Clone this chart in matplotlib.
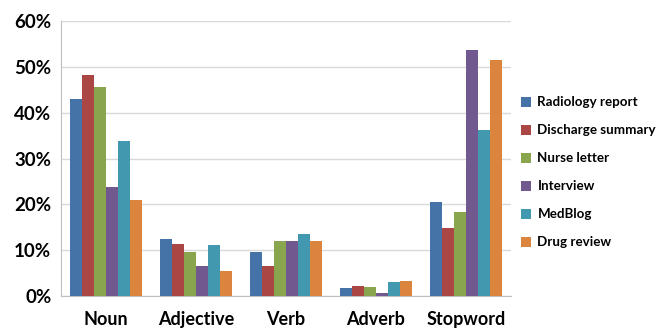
import numpy as np
import matplotlib.pyplot as plt
from matplotlib.ticker import FuncFormatter

plt.rcParams['font.family'] = ['Lato', 'DejaVu Sans']
plt.rcParams['font.weight'] = 'bold'

# part-of-speech share per corpus (%)
categories = ['Noun', 'Adjective', 'Verb', 'Adverb', 'Stopword']
radiology = [43.0, 12.4, 9.6, 1.7, 20.6]
discharge = [48.3, 11.3, 6.5, 2.1, 14.9]
nurse = [45.5, 9.5, 12.1, 1.9, 18.3]
interview = [23.7, 6.5, 12.1, 0.65, 53.7]
medblog = [33.9, 11.1, 13.5, 3.1, 36.2]
drug = [21.0, 5.5, 12.0, 3.3, 51.5]

series = [radiology, discharge, nurse, interview, medblog, drug]
names = ['Radiology report', 'Discharge summary', 'Nurse letter',
         'Interview', 'MedBlog', 'Drug review']
colors = ['#4572A7', '#AA4643', '#89A54E', '#71588F', '#4198AF', '#DB843D']

fig = plt.figure(figsize=(6.64, 3.29), dpi=100)
ax = fig.add_axes([61/664, 33/329, 450/664, 275/329])

x = np.arange(len(categories))
w = 0.8 / len(series)
for i, (vals, name, c) in enumerate(zip(series, names, colors)):
    ax.bar(x - 0.4 + w * (i + 0.5), vals, w, color=c, label=name, zorder=3)

ax.set_xlim(-0.5, len(categories) - 0.5)
ax.set_ylim(0, 60)
ax.set_yticks(range(0, 61, 10))
ax.yaxis.set_major_formatter(FuncFormatter(lambda v, p: '%d%%' % v))
ax.grid(axis='y', color='#D9D9D9', lw=1, zorder=0)
ax.set_xticks(x)
ax.set_xticklabels(categories, fontsize=13, fontweight='bold')
ax.tick_params(axis='x', length=0, pad=11)
ax.tick_params(axis='y', length=0, pad=7, labelsize=13.5)
for s in ['top', 'right']:
    ax.spines[s].set_visible(False)
for s in ['left', 'bottom']:
    ax.spines[s].set_color('#BFBFBF')

ax.legend(loc='center left', bbox_to_anchor=(0.995, 0.45), frameon=False,
          fontsize=9.6, handlelength=0.8, handleheight=0.8,
          handletextpad=0.45, labelspacing=1.2)

fig.savefig('out.png', dpi=100)
